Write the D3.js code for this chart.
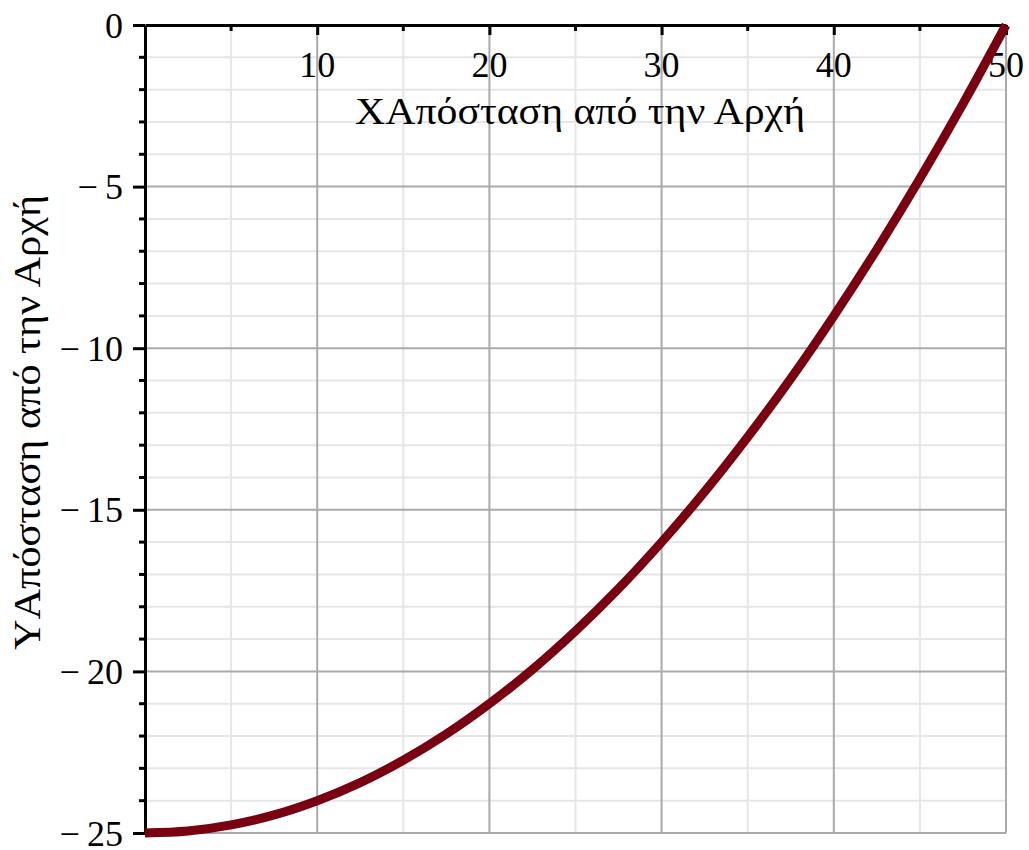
<!DOCTYPE html>
<html>
<head>
<meta charset="utf-8">
<script src="https://cdn.jsdelivr.net/npm/d3@7"></script>
<style>
  body { margin: 0; background: #fff; }
  text { font-family: "Liberation Serif", "DejaVu Serif", serif; fill: #000; }
</style>
</head>
<body>
<div id="chart"></div>
<script>
// values
var xValues = [0, 2.5, 5, 7.5, 10, 12.5, 15, 17.5, 20, 22.5, 25, 27.5, 30, 32.5, 35, 37.5, 40, 42.5, 45, 47.5, 50];
var yValues = [-25, -24.94, -24.75, -24.44, -24, -23.44, -22.75, -21.94, -21, -19.94, -18.75, -17.44, -16, -14.44, -12.75, -10.94, -9, -6.94, -4.75, -2.44, 0];
var xMajorTicks = [10, 20, 30, 40, 50];
var xMinorTicks = [5, 15, 25, 35, 45];
var yMajorTicks = [0, -5, -10, -15, -20, -25];
var yMinorTicks = d3.range(-24, 0).filter(function(v){ return v % 5 !== 0; });
var xTitle = "XΑπόσταση από την Αρχή";
var yTitle = "YΑπόσταση από την Αρχή";

var width = 1029, height = 850,
    margin = {top: 25, right: 23, bottom: 17, left: 145};

var x = d3.scaleLinear().domain([0, 50]).range([margin.left, width - margin.right]);
var y = d3.scaleLinear().domain([-25, 0]).range([height - margin.bottom, margin.top]);

var svg = d3.select("#chart").append("svg")
    .attr("width", width)
    .attr("height", height);

// grid - minor first, then major
var grid = svg.append("g").attr("class", "grid");
grid.selectAll(".vminor").data(xMinorTicks).enter().append("line")
    .attr("x1", function(d){ return x(d); }).attr("x2", function(d){ return x(d); })
    .attr("y1", y(0)).attr("y2", y(-25))
    .attr("stroke", "#e6e6e6").attr("stroke-width", 2);
grid.selectAll(".hminor").data(yMinorTicks).enter().append("line")
    .attr("x1", x(0)).attr("x2", x(50))
    .attr("y1", function(d){ return y(d); }).attr("y2", function(d){ return y(d); })
    .attr("stroke", "#e6e6e6").attr("stroke-width", 2);
grid.selectAll(".vmajor").data(xMajorTicks).enter().append("line")
    .attr("x1", function(d){ return x(d); }).attr("x2", function(d){ return x(d); })
    .attr("y1", y(0)).attr("y2", y(-25))
    .attr("stroke", "#aaaaaa").attr("stroke-width", 2);
grid.selectAll(".hmajor").data(yMajorTicks.filter(function(d){ return d !== 0; })).enter().append("line")
    .attr("x1", x(0)).attr("x2", x(50))
    .attr("y1", function(d){ return y(d); }).attr("y2", function(d){ return y(d); })
    .attr("stroke", "#aaaaaa").attr("stroke-width", 2);

// x axis along the top (y = 0)
var xAxis = d3.axisBottom(x).tickValues(xMajorTicks).tickSize(10).tickSizeOuter(0).tickFormat("");
var gx = svg.append("g").attr("transform", "translate(0," + y(0) + ")").call(xAxis);
gx.select(".domain").attr("stroke", "#000").attr("stroke-width", 3);
gx.selectAll(".tick line").attr("stroke", "#000").attr("stroke-width", 3);
gx.selectAll(".minor").data(xMinorTicks).enter().append("line")
    .attr("x1", function(d){ return x(d); }).attr("x2", function(d){ return x(d); })
    .attr("y1", 0).attr("y2", 6).attr("stroke", "#000").attr("stroke-width", 3);
gx.selectAll(".lbl").data(xMajorTicks).enter().append("text")
    .attr("x", function(d){ return x(d); })
    .attr("y", 52)
    .attr("text-anchor", "middle")
    .attr("font-size", "36px")
    .text(function(d){ return d; });

// y axis on the left (x = 0)
var yAxis = d3.axisLeft(y).tickValues(yMajorTicks).tickSize(12).tickSizeOuter(0).tickFormat("");
var gy = svg.append("g").attr("transform", "translate(" + x(0) + ",0)").call(yAxis);
gy.select(".domain").attr("stroke", "#000").attr("stroke-width", 3);
gy.selectAll(".tick line").attr("stroke", "#000").attr("stroke-width", 3);
gy.selectAll(".minor").data(yMinorTicks).enter().append("line")
    .attr("x1", -6).attr("x2", 0)
    .attr("y1", function(d){ return y(d); }).attr("y2", function(d){ return y(d); })
    .attr("stroke", "#000").attr("stroke-width", 3);
gy.selectAll(".lbl").data(yMajorTicks).enter().append("text")
    .attr("x", -22)
    .attr("y", function(d){ return y(d); })
    .attr("dy", "0.35em")
    .attr("text-anchor", "end")
    .attr("font-size", "36px")
    .text(function(d){ return d < 0 ? "\u2212\u2009" + Math.abs(d) : d; });

// axis titles
svg.append("text")
    .attr("x", 355).attr("y", 124)
    .attr("font-size", "37px")
    .attr("textLength", 450)
    .attr("lengthAdjust", "spacingAndGlyphs")
    .text(xTitle);
svg.append("text")
    .attr("transform", "translate(40,650) rotate(-90)")
    .attr("font-size", "37px")
    .attr("textLength", 455)
    .attr("lengthAdjust", "spacingAndGlyphs")
    .text(yTitle);

// curve
var pts = xValues.map(function(v, i){ return [v, yValues[i]]; });
var line = d3.line()
    .x(function(d){ return x(d[0]); })
    .y(function(d){ return y(d[1]); })
    .curve(d3.curveCatmullRom);
svg.append("path")
    .datum(pts)
    .attr("d", line)
    .attr("fill", "none")
    .attr("stroke", "#780010")
    .attr("stroke-width", 9);
</script>
</body>
</html>
